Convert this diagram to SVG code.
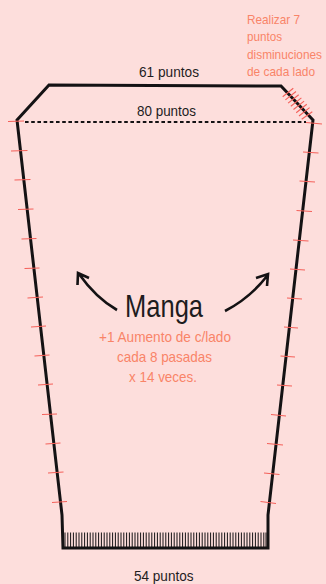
<svg xmlns="http://www.w3.org/2000/svg" width="326" height="584" viewBox="0 0 326 584">
<style>
.o{fill:none;stroke:#141214;stroke-width:3}
.t{stroke:#f4605a;stroke-width:1.1;fill:none}
.r{stroke:#141214;stroke-width:1;fill:none}
text{font-family:"Liberation Sans",Arial,sans-serif}
.b{fill:#1e1c1e;font-size:15.500px}
.c{fill:#f98468;font-size:14.500px}
.n{fill:#f98468;font-size:12.200px}
</style>
<rect width="326" height="584" fill="#fddedc"/>
<g id="connectors">
<path class="o" d="M17 120 49 85 281 86 313 120 268 515V548H63L62 515Z"/>
<path d="M25 122H306" fill="none" stroke="#141214" stroke-width="2" stroke-dasharray="3.600 2.600"/>
<path class="t" d="M8 121.500 24 121M11 151 27.500 150.500M14.500 180 30.500 179.500M18 209.500 33.500 209M21.500 239 36.500 238.500M24.500 268.500 39.500 268M27.500 298 43 297M31 327 46 326M34.500 356 49.500 355M38 385 53 384M42 414.500 57 414M45.500 444 60.500 443M48 473 63.500 472M52 502.500 67 501.500"/>
<path class="t" d="M306 122.500 322 124M303 152 318.500 153M299.500 181 315 182M296.500 210.500 312 211.500M293 240 308.500 241M290 269 305 270M287 298 302 299M284 327 298 328M280.500 356 295 357M277 385 292 386M271 414.500 286 416M267 443.500 283 445M264 473 279.500 474.500M260.500 501.500 276 503.500"/>
<path class="t" d="M282.700 96.700 293.300 88.300M285.400 99.900 296 91.500M288.100 103.100 298.700 94.700M290.800 106.300 301.400 97.900M293.500 109.500 304.100 101.100M296.200 112.700 306.800 104.300M299 116 309.600 107.600M301.700 119.300 312.300 111.700"/>
<path class="r" d="M65 532.500V548M67.800 532.500V548M70.600 532.500V548M73.400 532.500V548M76.200 532.500V548M79 532.500V548M81.800 532.500V548M84.600 532.500V548M87.400 532.500V548M90.200 532.500V548M93 532.500V548M95.800 532.500V548M98.600 532.500V548M101.400 532.500V548M104.200 532.500V548M107 532.500V548M109.800 532.500V548M112.600 532.500V548M115.400 532.500V548M118.200 532.500V548M121 532.500V548M123.800 532.500V548M126.600 532.500V548M129.400 532.500V548M132.200 532.500V548M135 532.500V548M137.800 532.500V548M140.600 532.500V548M143.400 532.500V548M146.200 532.500V548M149 532.500V548M151.800 532.500V548M154.600 532.500V548M157.400 532.500V548M160.200 532.500V548M163 532.500V548M165.800 532.500V548M168.600 532.500V548M171.400 532.500V548M174.200 532.500V548M177 532.500V548M179.800 532.500V548M182.600 532.500V548M185.400 532.500V548M188.200 532.500V548M191 532.500V548M193.800 532.500V548M196.600 532.500V548M199.400 532.500V548M202.200 532.500V548M205 532.500V548M207.800 532.500V548M210.600 532.500V548M213.400 532.500V548M216.200 532.500V548M219 532.500V548M221.800 532.500V548M224.600 532.500V548M227.400 532.500V548M230.200 532.500V548M233 532.500V548M235.800 532.500V548M238.600 532.500V548M241.400 532.500V548M244.200 532.500V548M247 532.500V548M249.800 532.500V548M252.600 532.500V548M255.400 532.500V548M258.200 532.500V548M261 532.500V548M263.800 532.500V548M266 532.500V548"/>
<path d="M117 310Q96 298 79 274M77.500 285 78 273 89 278M225 311Q250 298 267 276M256 278 268 274 267 286" fill="none" stroke="#141214" stroke-width="2.600"/>
</g>
<g id="labels">
<text class="b" x="139" y="77" textLength="60" lengthAdjust="spacingAndGlyphs">61 puntos</text>
<text class="b" x="137" y="116" textLength="59" lengthAdjust="spacingAndGlyphs">80 puntos</text>
<text class="b" x="134" y="581" textLength="59.500" lengthAdjust="spacingAndGlyphs">54 puntos</text>
<text x="125" y="316.500" fill="#1e1c1e" font-size="32" textLength="78" lengthAdjust="spacingAndGlyphs">Manga</text>
<text class="c" x="99" y="342" textLength="132" lengthAdjust="spacingAndGlyphs">+1 Aumento de c/lado</text>
<text class="c" x="117" y="362" textLength="95" lengthAdjust="spacingAndGlyphs">cada 8 pasadas</text>
<text class="c" x="129" y="382" textLength="68" lengthAdjust="spacingAndGlyphs">x 14 veces.</text>
<text class="n" x="247" y="24" textLength="53" lengthAdjust="spacingAndGlyphs">Realizar 7</text>
<text class="n" x="247" y="41" textLength="35" lengthAdjust="spacingAndGlyphs">puntos</text>
<text class="n" x="247" y="59" textLength="75" lengthAdjust="spacingAndGlyphs">disminuciones</text>
<text class="n" x="247" y="76" textLength="68" lengthAdjust="spacingAndGlyphs">de cada lado</text>
</g>
</svg>
